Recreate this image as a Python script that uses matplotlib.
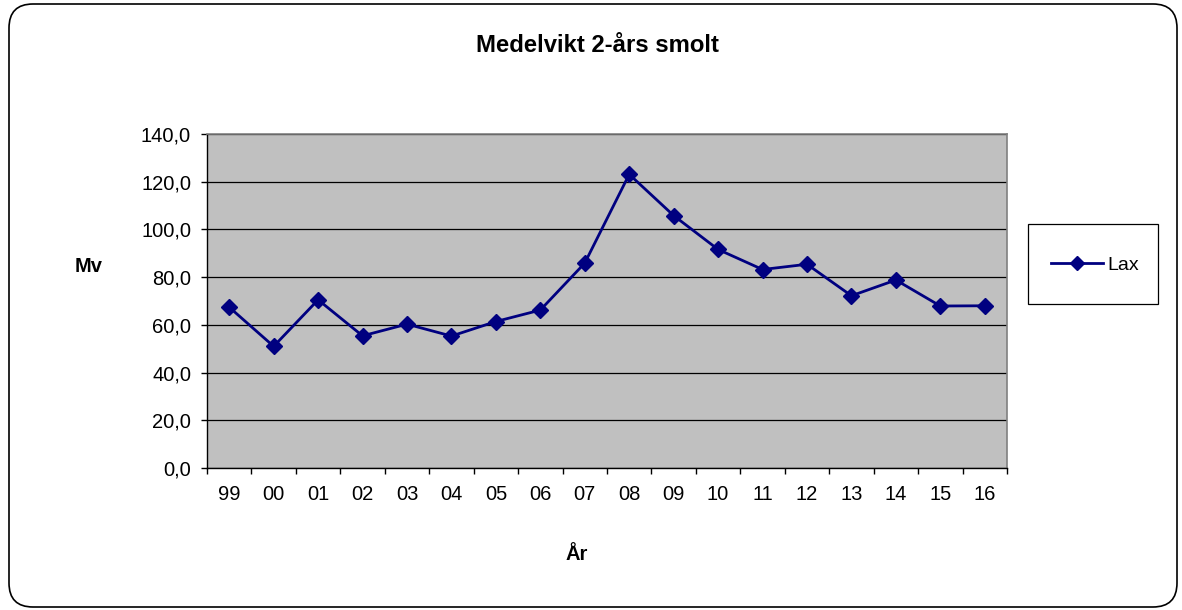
import matplotlib.pyplot as plt
from matplotlib.patches import FancyBboxPatch, Rectangle
from matplotlib.transforms import IdentityTransform

plt.rcParams['font.family'] = ['Liberation Sans', 'DejaVu Sans']

# Data
years = ['99', '00', '01', '02', '03', '04', '05', '06', '07',
         '08', '09', '10', '11', '12', '13', '14', '15', '16']
lax = [67.4, 51.0, 70.5, 55.4, 60.3, 55.3, 61.4, 66.2, 85.9,
       123.1, 105.8, 91.6, 83.2, 85.4, 72.2, 78.8, 67.9, 68.0]
yticks = [0, 20, 40, 60, 80, 100, 120, 140]

fig = plt.figure(figsize=(11.82, 6.1), dpi=100)

# rounded chart border (pixel coordinates)
border = FancyBboxPatch((9, 3), 1168, 603,
                        boxstyle='round,pad=0,rounding_size=24',
                        transform=IdentityTransform(), facecolor='none',
                        edgecolor='black', linewidth=1.2, zorder=-1)
fig.patches.append(border)

# legend frame, Excel style
fig.patches.append(Rectangle((1028, 610 - 304), 130, 80, transform=IdentityTransform(),
                             facecolor='white', edgecolor='black', linewidth=0.9))

ax = fig.add_axes([207 / 1182, 1 - 468 / 610, 800 / 1182, 334 / 610])
ax.set_facecolor('#C0C0C0')

x = list(range(len(years)))
ax.plot(x, lax, color='#000080', linewidth=2, marker='D', markersize=8.5,
        label='Lax', zorder=3)

ax.set_xlim(-0.5, len(years) - 0.5)
ax.set_ylim(0, 140)
ax.set_yticks(yticks)
ax.set_yticklabels([f'{v:.1f}'.replace('.', ',') for v in yticks])
ax.yaxis.grid(True, color='black', linewidth=0.9)
ax.set_axisbelow(True)

ax.set_xticks(x)
ax.set_xticklabels(years)
ax.set_xticks([i - 0.5 for i in range(len(years) + 1)], minor=True)
ax.tick_params(axis='x', which='major', length=0, pad=12, labelsize=14.5)
ax.tick_params(axis='x', which='minor', length=4.5, width=1, direction='out')
ax.tick_params(axis='y', length=4.5, width=1, direction='out', pad=7, labelsize=14.5)

for side in ['top', 'right']:
    ax.spines[side].set_color('#808080')
    ax.spines[side].set_linewidth(1.2)
for side in ['left', 'bottom']:
    ax.spines[side].set_color('black')
    ax.spines[side].set_linewidth(1)

fig.text(597 / 1182, 1 - 46 / 610, 'Medelvikt 2-års smolt', ha='center', va='center',
         fontsize=17.2, fontweight='bold')
fig.text(89 / 1182, 1 - 267 / 610, 'Mv', ha='center', va='center',
         fontsize=14.5, fontweight='bold')
fig.text(577 / 1182, 1 - 555 / 610, 'År', ha='center', va='center',
         fontsize=14.5, fontweight='bold')

leg = fig.legend(loc='center', bbox_to_anchor=(1095 / 1182, 1 - 265 / 610),
                 frameon=False, fontsize=14, markerscale=0.8,
                 handlelength=2.7, handletextpad=0.2)

fig.savefig('out.png', dpi=100)
